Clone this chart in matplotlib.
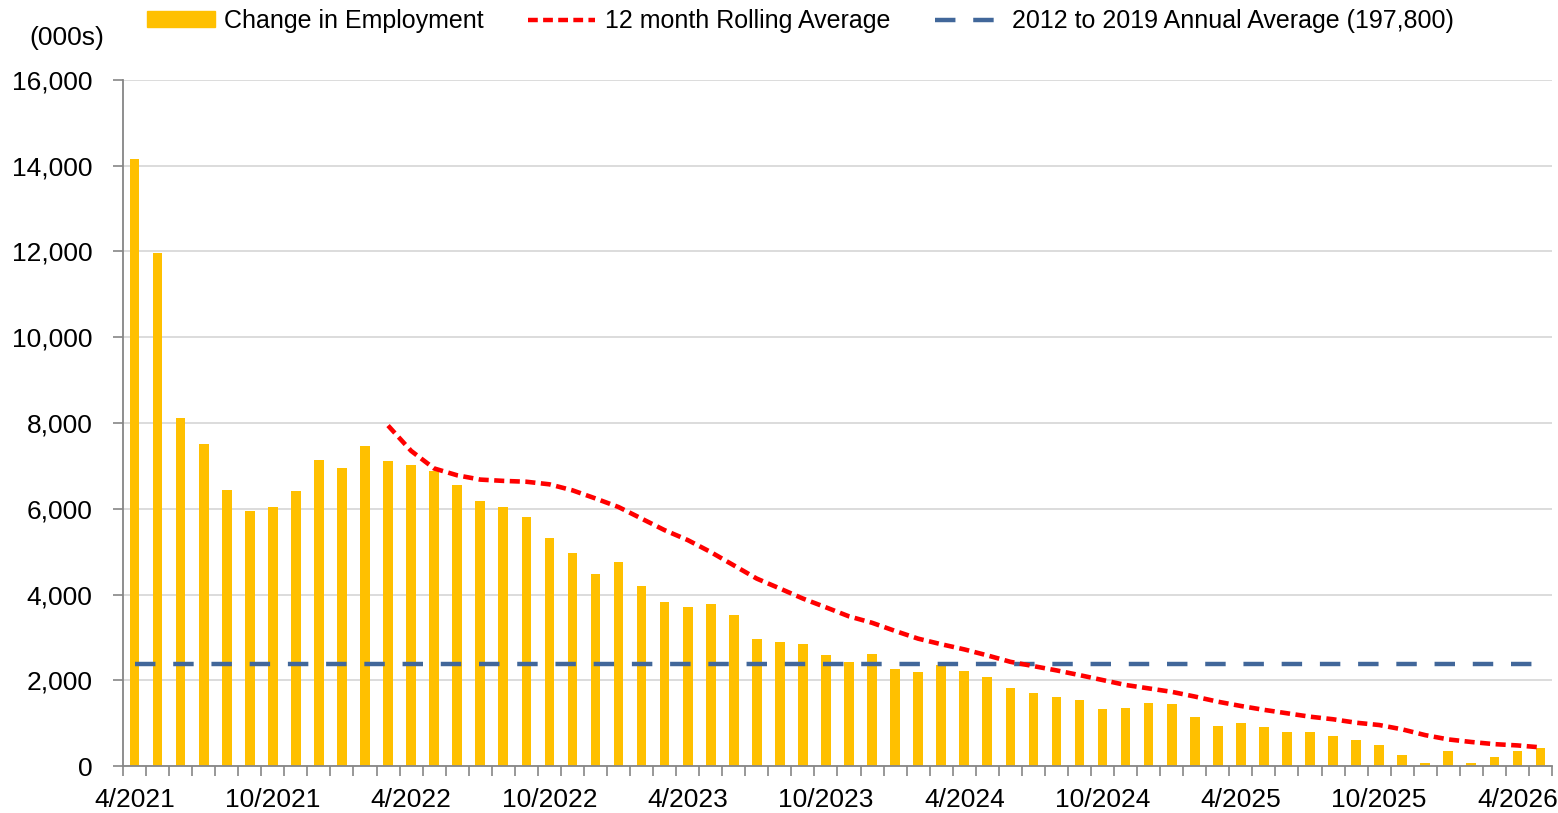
import numpy as np
import matplotlib
matplotlib.use('Agg')
from matplotlib import pyplot as plt
from matplotlib.patches import Patch
from matplotlib.lines import Line2D

plt.rcParams['font.family'] = ['Liberation Sans', 'DejaVu Sans']

# monthly change in employment (000s), 4/2021 .. 5/2026
employment = [14150, 11970, 8110, 7510, 6440, 5955, 6030, 6420, 7130, 6950,
              7470, 7110, 7020, 6880, 6550, 6190, 6040, 5810, 5325, 4975,
              4470, 4750, 4205, 3830, 3720, 3770, 3520, 2960, 2890, 2840,
              2600, 2430, 2610, 2255, 2185, 2355, 2215, 2075, 1810, 1710,
              1605, 1545, 1320, 1350, 1460, 1440, 1140, 925, 995, 910,
              785, 785, 710, 615, 500, 257, 70, 343, 62, 210,
              350, 427]

# 12 month rolling average, starts at 3/2022 (index 11)
rolling_start = 11
rolling = [7940, 7350, 6940, 6780, 6680, 6650, 6630, 6570, 6430, 6240,
           6040, 5770, 5500, 5270, 4990, 4680, 4370, 4140, 3905, 3700,
           3490, 3340, 3150, 2970, 2840, 2720, 2580, 2430, 2330, 2230,
           2120, 2005, 1890, 1810, 1730, 1620, 1500, 1400, 1310, 1230,
           1150, 1090, 1010, 956, 855, 720, 620, 560, 510, 480,
           435]

annual_avg = 2373.6  # 197,800 x 12

tick_labels = ['4/2021', '10/2021', '4/2022', '10/2022', '4/2023', '10/2023',
               '4/2024', '10/2024', '4/2025', '10/2025', '4/2026']

n = len(employment)
x = np.arange(n)
xr = np.arange(rolling_start, rolling_start + len(rolling))

fs = 18

fig = plt.figure(figsize=(15.58, 8.13), dpi=100)
ax = fig.add_axes([123/1558, 1-766/813, (1552-123)/1558, (766-80)/813])

ax.bar(x, employment, width=0.42, color='#FFC000', zorder=2)
ax.plot(xr, rolling, color='#FF0000', lw=3.3, ls=(0, (2.2, 1.2)), zorder=4)
ax.plot([x[0], x[-1]], [annual_avg, annual_avg], color='#41679A', lw=3.2,
        ls=(0, (4.6, 4.0)), zorder=3)

ax.set_xlim(-0.5, n - 0.5)
ax.set_ylim(0, 16000)
ax.set_yticks(np.arange(0, 16001, 2000))
ax.set_yticklabels([f'{v:,}' for v in range(0, 16001, 2000)])
ax.yaxis.grid(True, color='#D9D9D9', lw=1.3, zorder=0)
ax.set_axisbelow(True)

ax.set_xticks(np.arange(0, 61, 6))
ax.set_xticklabels(tick_labels)
ax.set_xticks(np.arange(-0.5, n, 1), minor=True)
ax.tick_params(axis='x', which='major', length=0, pad=16, labelsize=fs + 1)
ax.tick_params(axis='x', which='minor', length=7, width=1.2, color='#868686')
ax.tick_params(axis='y', length=7, width=1.2, color='#868686', pad=15, labelsize=fs + 1)

for s in ['top', 'right']:
    ax.spines[s].set_visible(False)
for s in ['left', 'bottom']:
    ax.spines[s].set_color('#868686')
    ax.spines[s].set_linewidth(1.3)

fig.text(67/1558, 1-38/813, '(000s)', fontsize=fs + 1, ha='center', va='center')

handles = [Patch(color='#FFC000'),
           Line2D([], [], color='#FF0000', lw=3.2, ls=(0, (2.2, 1.2))),
           Line2D([], [], color='#41679A', lw=3.2, ls=(0, (4.6, 4.0)))]
labels = ['Change in Employment', '12 month Rolling Average',
          '2012 to 2019 Annual Average (197,800)']
fig.legend(handles, labels, loc='center left', bbox_to_anchor=(147/1558, 1-21/813),
           ncol=3, frameon=False, fontsize=fs, handlelength=2.7, handleheight=0.6,
           handletextpad=0.4, columnspacing=1.75, borderpad=0, borderaxespad=0)

fig.savefig('out.png', dpi=100)
